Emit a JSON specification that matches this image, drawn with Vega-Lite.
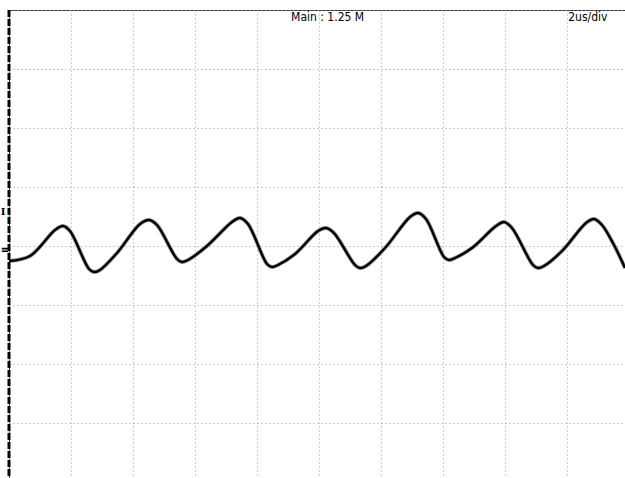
{
  "$schema": "https://vega.github.io/schema/vega-lite/v6.json",
  "autosize": "none",
  "padding": {"left": 9, "top": 10, "right": 0, "bottom": 0},
  "width": 620,
  "height": 472,
  "background": "white",
  "config": {
    "view": {"stroke": "#333333", "strokeWidth": 1}
  },
  "datasets": {
    "wave": [
      {"t": 0.0, "v": -0.254}, {"t": 0.677, "v": -0.169}, {"t": 1.484, "v": 0.271}, {"t": 1.742, "v": 0.339},
      {"t": 1.968, "v": 0.254}, {"t": 2.581, "v": -0.39}, {"t": 2.742, "v": -0.441}, {"t": 2.935, "v": -0.407},
      {"t": 3.484, "v": -0.119}, {"t": 4.226, "v": 0.373}, {"t": 4.516, "v": 0.441}, {"t": 4.774, "v": 0.356},
      {"t": 5.419, "v": -0.22}, {"t": 5.581, "v": -0.271}, {"t": 5.774, "v": -0.237},
      {"t": 6.387, "v": 0.0}, {"t": 7.194, "v": 0.407}, {"t": 7.452, "v": 0.475}, {"t": 7.71, "v": 0.373},
      {"t": 8.323, "v": -0.305}, {"t": 8.484, "v": -0.356}, {"t": 8.677, "v": -0.322},
      {"t": 9.226, "v": -0.136}, {"t": 9.968, "v": 0.254}, {"t": 10.226, "v": 0.305}, {"t": 10.484, "v": 0.22},
      {"t": 11.161, "v": -0.322}, {"t": 11.323, "v": -0.373}, {"t": 11.516, "v": -0.339},
      {"t": 12.129, "v": -0.034}, {"t": 12.935, "v": 0.492}, {"t": 13.194, "v": 0.559}, {"t": 13.452, "v": 0.458},
      {"t": 14.032, "v": -0.186}, {"t": 14.194, "v": -0.237}, {"t": 14.387, "v": -0.203},
      {"t": 14.935, "v": -0.034}, {"t": 15.71, "v": 0.339}, {"t": 15.968, "v": 0.407}, {"t": 16.226, "v": 0.305},
      {"t": 16.903, "v": -0.322}, {"t": 17.065, "v": -0.373}, {"t": 17.258, "v": -0.339},
      {"t": 17.839, "v": -0.085}, {"t": 18.613, "v": 0.39}, {"t": 18.871, "v": 0.458}, {"t": 19.129, "v": 0.356},
      {"t": 19.516, "v": 0.017}, {"t": 19.871, "v": -0.373}
    ],
    "labels": [
      {"t": 9.1, "v": 3.88, "text": "Main : 1.25 M"},
      {"t": 18.04, "v": 3.88, "text": "2us/div"}
    ],
    "markers": [
      {"t": -0.27, "v": 0.576, "text": "I"},
      {"t": -0.27, "v": -0.06, "text": "≡"}
    ],
    "edge": [{"t": 0}]
  },
  "layer": [
    {
      "data": {"name": "wave"},
      "mark": {"type": "line", "color": "#9a9a9a", "strokeWidth": 4, "interpolate": "catmull-rom", "strokeJoin": "round", "clip": true},
      "encoding": {
        "x": {
          "field": "t", "type": "quantitative",
          "scale": {"domain": [0, 20], "nice": false, "zero": false},
          "axis": {"values": [0, 2, 4, 6, 8, 10, 12, 14, 16, 18, 20], "labels": false, "ticks": false, "domain": false, "title": null,
                   "grid": true, "gridColor": "#999999", "gridDash": [1, 3], "gridWidth": 1, "gridOpacity": 1}
        },
        "y": {
          "field": "v", "type": "quantitative",
          "scale": {"domain": [-4, 4], "nice": false, "zero": false},
          "axis": {"values": [-4, -3, -2, -1, 0, 1, 2, 3, 4], "labels": false, "ticks": false, "domain": false, "title": null,
                   "grid": true, "gridColor": "#999999", "gridDash": [1, 3], "gridWidth": 1, "gridOpacity": 1}
        }
      }
    },
    {
      "data": {"name": "wave"},
      "mark": {"type": "line", "color": "black", "strokeWidth": 2.4, "interpolate": "catmull-rom", "strokeJoin": "round", "clip": true},
      "encoding": {
        "x": {"field": "t", "type": "quantitative"},
        "y": {"field": "v", "type": "quantitative"}
      }
    },
    {
      "data": {"name": "edge"},
      "mark": {"type": "rule", "color": "black", "strokeWidth": 3, "strokeDash": [7, 2]},
      "encoding": {"x": {"field": "t", "type": "quantitative"}}
    },
    {
      "data": {"name": "labels"},
      "mark": {"type": "text", "font": "Liberation Sans Narrow, DejaVu Sans Condensed, sans-serif", "fontSize": 12, "color": "black", "align": "left", "baseline": "middle"},
      "encoding": {
        "x": {"field": "t", "type": "quantitative"},
        "y": {"field": "v", "type": "quantitative"},
        "text": {"field": "text"}
      }
    },
    {
      "data": {"name": "markers"},
      "mark": {"type": "text", "font": "DejaVu Serif", "fontSize": 10, "fontWeight": "bold", "color": "black", "align": "left", "baseline": "middle"},
      "encoding": {
        "x": {"field": "t", "type": "quantitative"},
        "y": {"field": "v", "type": "quantitative"},
        "text": {"field": "text"}
      }
    }
  ]
}
